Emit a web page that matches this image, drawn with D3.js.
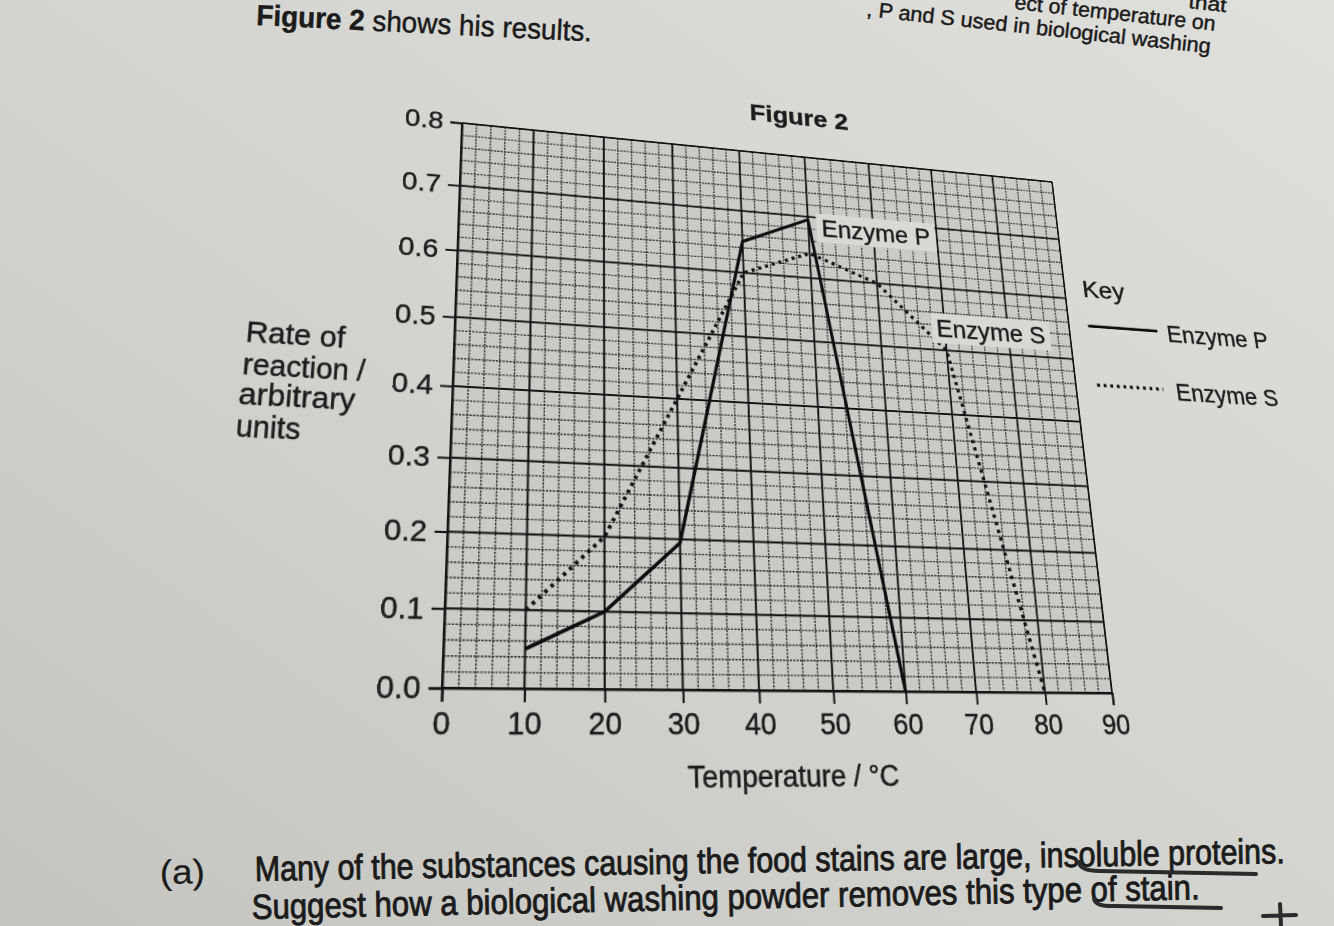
<!DOCTYPE html>
<html>
<head>
<meta charset="utf-8">
<script src="https://cdn.jsdelivr.net/npm/d3@7"></script>
<style>
  html, body { margin: 0; padding: 0; width: 1334px; height: 926px; overflow: hidden; background: #d4d4d0; }
  svg { position: absolute; left: 0; top: 0; }
  #chart { transform-origin: 0 0; overflow: visible; }
  text { font-family: "Liberation Sans", Arial, sans-serif; fill: #1b1b1b; stroke: #1b1b1b; stroke-width: 0.45; }
</style>
</head>
<body>
<svg id="page" width="1334" height="926"></svg>
<svg id="chart" width="1334" height="926"></svg>
<script>
// values
const temps = [0, 10, 20, 30, 40, 50, 60, 70, 80, 90];
const rateTicks = [0, 0.1, 0.2, 0.3, 0.4, 0.5, 0.6, 0.7, 0.8];
const enzymePTemp = [10, 20, 30, 40, 50, 60];
const enzymePRate = [0.05, 0.10, 0.195, 0.65, 0.695, 0.0];
const enzymeSTemp = [10, 20, 30, 40, 50, 60, 70, 80];
const enzymeSRate = [0.10, 0.20, 0.40, 0.60, 0.64, 0.60, 0.50, 0.0];

const W = 1334, H = 926;
const plot = { left: 440, right: 1110, top: 122, bottom: 688 };

// the page is photographed at an angle: map the flat plot box onto where its corners sit in the photo
const flatCorners = [[440, 688], [1110, 688], [440, 122], [1110, 122]];
const photoCorners = [[442, 688], [1112, 693], [462, 123], [1052, 182]];

function solveHomography(src, dst) {
    const A = [], b = [];
    for (let i = 0; i < 4; i++) {
        const [u, v] = src[i], [x, y] = dst[i];
        A.push([u, v, 1, 0, 0, 0, -u * x, -v * x]); b.push(x);
        A.push([0, 0, 0, u, v, 1, -u * y, -v * y]); b.push(y);
    }
    for (let c = 0; c < 8; c++) {
        let p = c;
        for (let r = c + 1; r < 8; r++) if (Math.abs(A[r][c]) > Math.abs(A[p][c])) p = r;
        [A[c], A[p]] = [A[p], A[c]];
        [b[c], b[p]] = [b[p], b[c]];
        for (let r = 0; r < 8; r++) {
            if (r === c) continue;
            const f = A[r][c] / A[c][c];
            for (let k = c; k < 8; k++) A[r][k] -= f * A[c][k];
            b[r] -= f * b[c];
        }
    }
    return b.map((v, i) => v / A[i][i]);
}

function applyH(h, x, y) {
    const w = h[6] * x + h[7] * y + 1;
    return [(h[0] * x + h[1] * y + h[2]) / w, (h[3] * x + h[4] * y + h[5]) / w];
}

const Hm = solveHomography(flatCorners, photoCorners);
const Hinv = solveHomography(photoCorners, flatCorners);
document.getElementById("chart").style.transform =
    `matrix3d(${Hm[0]},${Hm[3]},0,${Hm[6]},${Hm[1]},${Hm[4]},0,${Hm[7]},0,0,1,0,${Hm[2]},${Hm[5]},0,1)`;

// ---------- page (untransformed) ----------
const page = d3.select("#page");
const defs = page.append("defs");
const grad = defs.append("linearGradient").attr("id", "paper")
    .attr("x1", 0).attr("y1", 1).attr("x2", 1).attr("y2", 0);
grad.append("stop").attr("offset", 0).attr("stop-color", "#c4c4c0");
grad.append("stop").attr("offset", 0.45).attr("stop-color", "#d2d2ce");
grad.append("stop").attr("offset", 1).attr("stop-color", "#dfdfdb");
page.append("rect").attr("width", W).attr("height", H).attr("fill", "url(#paper)");

function pageText(str, x, y, size, angle, len) {
    const t = page.append("text")
        .attr("transform", `translate(${x},${y}) rotate(${angle})`)
        .attr("font-size", size);
    if (len) t.attr("textLength", len).attr("lengthAdjust", "spacingAndGlyphs");
    return t;
}

let t = pageText("", 256, 25, 29, 2.8, 336);
t.append("tspan").attr("font-weight", "bold").text("Figure 2");
t.append("tspan").text(" shows his results.");

pageText("", 1188, 8, 20, 6.2, 38).text("that");
pageText("", 1014, 9, 21, 6.2, 202).text("ect of temperature on");
pageText("", 866, 16, 21, 6.2, 346).text(", P and S used in biological washing");

pageText("", 160, 884, 34, -1, 45).text("(a)").style("stroke-width", 0.2);
pageText("", 255, 881, 35, -1, 1030).text("Many of the substances causing the food stains are large, insoluble proteins.").style("stroke-width", 0.9);
pageText("", 252, 919, 35, -1.2, 948).text("Suggest how a biological washing powder removes this type of stain.").style("stroke-width", 0.9);

// pen marks
const pen = page.append("g").attr("fill", "none").attr("stroke", "#2b2b2b")
    .attr("stroke-linecap", "round").attr("stroke-width", 4);
pen.append("path").attr("d", "M1079,862 Q1080,871 1100,871 L1256,874");
pen.append("path").attr("d", "M1094,899 Q1096,907 1115,906 L1221,908");
pen.append("path").attr("d", "M1280,904 L1281,926 M1263,916 L1296,915");

// ---------- chart (flat, then projected) ----------
const svg = d3.select("#chart");

const x = d3.scaleLinear().domain([0, 90]).range([plot.left, plot.right]);
const y = d3.scaleLinear().domain([0, 0.8]).range([plot.bottom, plot.top]);

svg.append("rect")
    .attr("x", plot.left).attr("y", plot.top)
    .attr("width", plot.right - plot.left).attr("height", plot.bottom - plot.top)
    .attr("fill", "#cacac6");

const grid = svg.append("g");
// fine graph-paper lines
grid.append("g").selectAll("line")
    .data(x.ticks(45).filter(d => d % 10 !== 0))
    .join("line")
    .attr("x1", d => x(d)).attr("x2", d => x(d))
    .attr("y1", plot.top).attr("y2", plot.bottom)
    .attr("stroke", "#2e2e2e").attr("stroke-width", 1.4).attr("stroke-dasharray", "2.2,1.2");
grid.append("g").selectAll("line")
    .data(y.ticks(40).filter(d => Math.abs(d * 10 - Math.round(d * 10)) > 1e-6))
    .join("line")
    .attr("y1", d => y(d)).attr("y2", d => y(d))
    .attr("x1", plot.left).attr("x2", plot.right)
    .attr("stroke", "#2e2e2e").attr("stroke-width", 1.4).attr("stroke-dasharray", "2.2,1.2");
// bold lines
grid.append("g").selectAll("line")
    .data(temps)
    .join("line")
    .attr("x1", d => x(d)).attr("x2", d => x(d))
    .attr("y1", plot.top).attr("y2", plot.bottom)
    .attr("stroke", "#121212").attr("stroke-width", 2);
grid.append("g").selectAll("line")
    .data(rateTicks)
    .join("line")
    .attr("y1", d => y(d)).attr("y2", d => y(d))
    .attr("x1", plot.left).attr("x2", plot.right)
    .attr("stroke", "#121212").attr("stroke-width", 2);

// axes
const yAxis = svg.append("g")
    .attr("transform", `translate(${plot.left},0)`)
    .call(d3.axisLeft(y).tickValues(rateTicks).tickFormat(d3.format(".1f")).tickSize(12).tickPadding(7));
const xAxis = svg.append("g")
    .attr("transform", `translate(0,${plot.bottom})`)
    .call(d3.axisBottom(x).tickValues(temps).tickSize(12).tickPadding(8));
[yAxis, xAxis].forEach(a => {
    a.attr("font-size", 28).attr("font-family", null);
    a.selectAll("path, line").attr("stroke", "#141414").attr("stroke-width", 2);
    a.selectAll("text").attr("fill", "#1b1b1b");
});

// data lines
const lineP = d3.line().x((d, i) => x(enzymePTemp[i])).y(d => y(d));
const lineS = d3.line().x((d, i) => x(enzymeSTemp[i])).y(d => y(d));

// text placed by its position in the photo
function photoText(g, str, x0, x1, yb, size, bold) {
    const a = applyH(Hinv, x0, yb), b = applyH(Hinv, x1, yb);
    const tx = g.append("text")
        .attr("x", a[0]).attr("y", a[1])
        .attr("font-size", size)
        .attr("textLength", b[0] - a[0]).attr("lengthAdjust", "spacingAndGlyphs")
        .text(str);
    if (bold) tx.attr("font-weight", "bold");
    return tx;
}

function boxedLabel(str, x0, x1, yb) {
    const g = svg.append("g");
    const tx = photoText(g, str, x0, x1, yb, 28);
    const bb = tx.node().getBBox();
    g.insert("rect", "text")
        .attr("x", bb.x - 6).attr("y", bb.y - 1)
        .attr("width", bb.width + 12).attr("height", bb.height + 3)
        .attr("fill", "#d8d8d4");
}

svg.append("path")
    .attr("d", lineS(enzymeSRate))
    .attr("fill", "none").attr("stroke", "#141414")
    .attr("stroke-width", 3.8).attr("stroke-dasharray", "3.5,4.5");
svg.append("path")
    .attr("d", lineP(enzymePRate))
    .attr("fill", "none").attr("stroke", "#0e0e0e")
    .attr("stroke-width", 3.4).attr("stroke-linejoin", "round");

boxedLabel("Enzyme P", 822, 930, 236);
boxedLabel("Enzyme S", 937, 1045, 336);

// titles
photoText(svg, "Figure 2", 750, 848, 120, 28, true);
photoText(svg, "Temperature / °C", 688, 900, 788, 28);
photoText(svg, "Rate of", 245, 345, 342, 29);
photoText(svg, "reaction /", 242, 365, 374, 29);
photoText(svg, "arbitrary", 238, 355, 404, 29);
photoText(svg, "units", 235, 300, 436, 29);

// key
photoText(svg, "Key", 1083, 1125, 297, 28);
const k1a = applyH(Hinv, 1088, 326), k1b = applyH(Hinv, 1157, 329);
svg.append("line").attr("x1", k1a[0]).attr("y1", k1a[1]).attr("x2", k1b[0]).attr("y2", k1a[1])
    .attr("stroke", "#0e0e0e").attr("stroke-width", 3.4);
photoText(svg, "Enzyme P", 1168, 1268, 342, 28);
const k2a = applyH(Hinv, 1097, 385), k2b = applyH(Hinv, 1163, 388);
svg.append("line").attr("x1", k2a[0]).attr("y1", k2a[1]).attr("x2", k2b[0]).attr("y2", k2a[1])
    .attr("stroke", "#141414").attr("stroke-width", 3.8).attr("stroke-dasharray", "3.5,4.5");
photoText(svg, "Enzyme S", 1177, 1278, 400, 28);
</script>
</body>
</html>
